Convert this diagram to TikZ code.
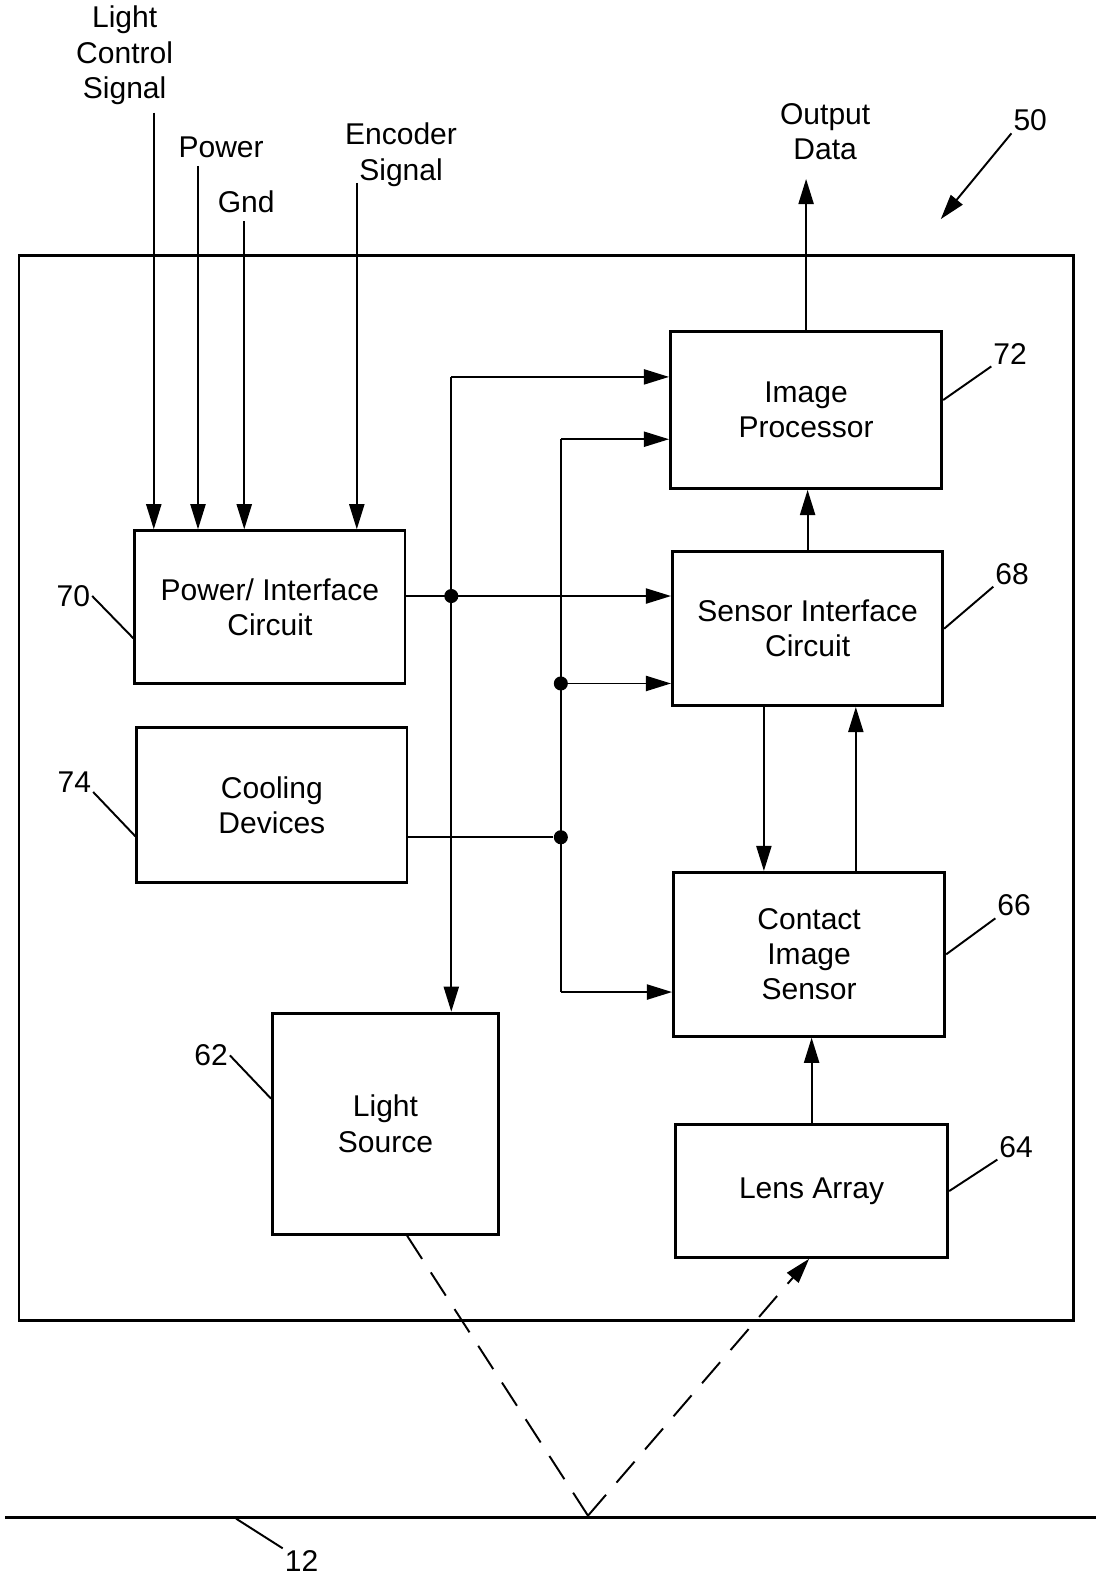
\documentclass[tikz,border=0pt]{standalone}
\usepackage{fontspec}
\setmainfont{Liberation Sans}
\usetikzlibrary{arrows.meta}

\begin{document}
\begin{tikzpicture}[x=0.02cm, y=-0.02cm,
  font=\fontsize{17}{19.9}\selectfont,
  box/.style={draw, line width=1.6pt, align=center, inner sep=0pt},
  txt/.style={align=center, inner sep=1pt},
  wire/.style={line width=1.1pt},
  arr/.style={wire, -{Triangle[length=0.5cm,width=0.3cm]}},
  ray/.style={wire, dash pattern=on 0.55cm off 0.32cm},
  dot/.style={fill, circle, inner sep=0pt, minimum size=0.28cm}]
\useasboundingbox (0,0) rectangle (1090,1568);

% housing and surface
\draw[line width=1.5pt] (19,254) rectangle (1068,1314);
\coordinate (surfL) at (5,1510);
\coordinate (surfR) at (1090,1510);
\coordinate (refl) at (585,1508);
\draw[line width=1.5pt] (surfL) -- (surfR);

% blocks
\node[box, minimum width=5.38cm, minimum height=3.04cm] (pic) at (268.5,604) {Power/ Interface\\Circuit};
\node[box, minimum width=5.38cm, minimum height=3.08cm] (cool) at (270.5,801) {Cooling\\Devices};
\node[box, minimum width=4.5cm, minimum height=4.4cm] (ls) at (383.5,1118) {Light\\Source};
\node[box, minimum width=5.4cm, minimum height=3.12cm] (ip) at (802,408) {Image\\Processor};
\node[box, minimum width=5.38cm, minimum height=3.06cm] (sic) at (803.5,625.5) {Sensor Interface\\Circuit};
\node[box, minimum width=5.4cm, minimum height=3.26cm] (cis) at (805,949.5) {Contact\\Image\\Sensor};
\node[box, minimum width=5.42cm, minimum height=2.64cm] (lens) at (807.5,1185) {Lens Array};

% input signals
\node[txt] (lcs) at (124,55) {Light\\Control\\Signal};
\node[txt] (pwr) at (220,147) {Power};
\node[txt] (gnd) at (245,201) {Gnd};
\node[txt] (enc) at (399,154) {Encoder\\Signal};
\coordinate (lcsTop) at (153,112);
\coordinate (pwrTop) at (197,165);
\coordinate (gndTop) at (243,220);
\coordinate (encTop) at (355,182);
\draw[arr] (lcsTop) -- (lcsTop |- pic.north);
\draw[arr] (pwrTop) -- (pwrTop |- pic.north);
\draw[arr] (gndTop) -- (gndTop |- pic.north);
\draw[arr] (encTop) -- (encTop |- pic.north);

% output
\node[txt] (outd) at (821,131) {Output\\Data};
\coordinate (outTip) at (800,178);
\draw[arr] (ip.north) -- (ip.north |- outTip);

% buses
\coordinate (busA) at (449,375);
\coordinate (pOut) at ([yshift=0.22cm]pic.east);
\draw[arr] (busA) -- (busA -| ip.west);
\draw[arr] (busA) -- (busA |- ls.north);
\draw[arr] (pOut) -- (pOut -| sic.west);
\node[dot] (jA) at (pOut -| busA) {};

\coordinate (busB) at (558,437);
\coordinate (busBbot) at (558,987);
\coordinate (cOut) at ([yshift=-0.64cm]cool.east);
\draw[arr] (busB) -- (busB -| ip.west);
\draw[wire] (busB) -- (busBbot);
\draw[arr] (busBbot) -- (busBbot -| cis.west);
\node[dot] (jB) at (558,680) {};
\draw[arr] (jB) -- (jB -| sic.west);
\node[dot] (jC) at (cOut -| busB) {};
\draw[wire] (cOut) -- (jC);

% sensor chain
\coordinate (dnA) at ([xshift=-0.87cm]sic.south);
\coordinate (upA) at ([xshift=0.93cm]cis.north);
\draw[arr] (dnA) -- (dnA |- cis.north);
\draw[arr] (upA) -- (upA |- sic.south);
\draw[arr] (sic.north) -- (sic.north |- ip.south);
\draw[arr] (lens.north) -- (lens.north |- cis.south);

% light path
\draw[ray] ([xshift=0.43cm]ls.south) -- (refl);
\draw[ray, -{Triangle[length=0.5cm,width=0.3cm]}] (refl) -- ([xshift=-0.05cm]lens.south);

% reference numerals
\node[txt] (n50) at (1025,120) {50};
\coordinate (p50) at (936,218);
\draw[arr] (n50.south west) -- (p50);
\node[txt] (n70) at (73,593) {70};
\draw[wire] (n70.east) -- ([yshift=-0.62cm]pic.west);
\node[txt] (n74) at (74,778) {74};
\draw[wire] ([yshift=-0.2cm]n74.east) -- ([yshift=-0.62cm]cool.west);
\node[txt] (n62) at (210,1050) {62};
\draw[wire] (n62.east) -- ([yshift=0.5cm]ls.west);
\node[txt] (n72) at (1005,352) {72};
\draw[wire] (n72.south west) -- ([yshift=0.2cm]ip.east);
\node[txt] (n68) at (1007,571) {68};
\draw[wire] (n68.south west) -- (sic.east);
\node[txt] (n66) at (1009,901) {66};
\draw[wire] (n66.south west) -- (cis.east);
\node[txt] (n64) at (1011,1141) {64};
\draw[wire] (n64.south west) -- (lens.east);
\node[txt] (n12) at (300,1553) {12};
\coordinate (s12) at (235,1511);
\draw[wire] (n12.north west) -- (s12);
\end{tikzpicture}
\end{document}
